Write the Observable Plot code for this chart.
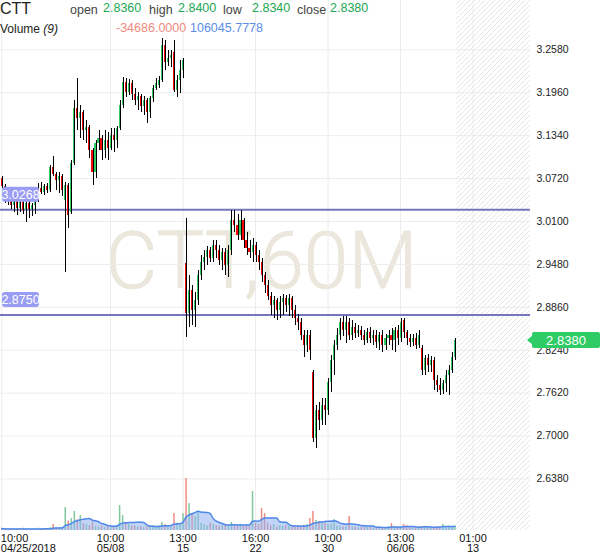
<!DOCTYPE html>
<html><head><meta charset="utf-8">
<script src="https://cdn.jsdelivr.net/npm/d3@7"></script>
<script src="https://cdn.jsdelivr.net/npm/@observablehq/plot@0.6"></script>
<style>
html,body{margin:0;padding:0;background:#fff;}
#wrap{position:relative;width:600px;height:558px;overflow:hidden;font-family:"Liberation Sans",Arial,sans-serif;}
#wrap svg{position:absolute;left:0;top:0;}
.h{position:absolute;white-space:nowrap;line-height:17px;}
</style></head><body><div id="wrap"></div>
<script>
const ticker = "CTT";
const interval = "60M";
const openV = [3.072,3.061,3.040,3.045,3.033,3.042,3.029,3.037,3.026,3.036,
3.027,3.033,3.040,3.058,3.052,3.061,3.055,3.088,3.078,3.069,
3.075,3.040,3.062,3.023,3.094,3.173,3.159,3.167,3.141,3.146,
3.113,3.081,3.123,3.130,3.113,3.127,3.115,3.134,3.127,3.144,
3.178,3.211,3.196,3.209,3.193,3.185,3.191,3.176,3.185,3.167,
3.188,3.202,3.206,3.214,3.264,3.240,3.246,3.254,3.199,3.214,
3.228,2.949,2.877,2.910,2.881,2.896,2.932,2.951,2.958,2.968,
2.957,2.975,2.968,2.954,2.965,2.946,2.968,3.011,3.004,2.990,
3.011,2.982,2.971,2.965,2.975,2.961,2.951,2.932,2.918,2.902,
2.889,2.896,2.881,2.893,2.899,2.889,2.899,2.881,2.870,2.864,
2.845,2.831,2.845,2.792,2.696,2.737,2.722,2.744,2.737,2.777,
2.809,2.831,2.845,2.864,2.852,2.864,2.845,2.857,2.848,2.852,
2.845,2.838,2.850,2.841,2.845,2.835,2.845,2.831,2.841,2.845,
2.838,2.852,2.841,2.867,2.850,2.841,2.835,2.841,2.831,2.826,
2.795,2.812,2.802,2.809,2.780,2.773,2.766,2.776,2.787,2.795,2.813];
const highV = [3.075,3.063,3.049,3.048,3.045,3.043,3.042,3.040,3.039,3.039,
3.036,3.043,3.065,3.066,3.063,3.065,3.091,3.104,3.081,3.081,
3.078,3.066,3.065,3.098,3.185,3.217,3.178,3.170,3.156,3.149,
3.115,3.127,3.141,3.134,3.141,3.139,3.144,3.144,3.147,3.185,
3.218,3.217,3.215,3.214,3.202,3.196,3.193,3.191,3.188,3.191,
3.206,3.217,3.220,3.274,3.272,3.257,3.257,3.272,3.221,3.243,
3.246,3.014,2.932,2.918,2.907,2.939,2.961,2.968,2.974,2.972,
2.982,2.982,2.975,2.971,2.971,2.975,3.026,3.026,3.020,3.026,
3.014,2.994,2.982,2.985,2.980,2.968,2.957,2.936,2.925,2.907,
2.902,2.899,2.902,2.904,2.903,2.904,2.902,2.889,2.876,2.870,
2.852,2.852,2.852,2.795,2.744,2.748,2.754,2.754,2.783,2.816,
2.838,2.855,2.870,2.873,2.873,2.870,2.867,2.863,2.860,2.858,
2.852,2.855,2.857,2.852,2.852,2.850,2.852,2.847,2.852,2.855,
2.857,2.860,2.870,2.870,2.852,2.847,2.847,2.848,2.852,2.831,
2.816,2.818,2.815,2.813,2.787,2.783,2.780,2.795,2.802,2.821,2.841];
const lowV = [3.058,3.036,3.033,3.027,3.023,3.019,3.023,3.020,3.008,3.014,
3.017,3.020,3.037,3.049,3.048,3.050,3.052,3.075,3.055,3.050,
3.046,2.936,3.000,3.020,3.091,3.141,3.130,3.127,3.123,3.101,
3.062,3.072,3.113,3.098,3.101,3.098,3.113,3.110,3.115,3.141,
3.173,3.189,3.192,3.185,3.178,3.170,3.167,3.163,3.152,3.159,
3.182,3.199,3.202,3.211,3.228,3.234,3.233,3.196,3.189,3.195,
3.217,2.842,2.857,2.860,2.857,2.889,2.925,2.939,2.946,2.951,
2.951,2.957,2.946,2.939,2.932,2.929,2.961,2.994,2.982,2.982,
2.971,2.961,2.957,2.951,2.951,2.939,2.922,2.906,2.896,2.874,
2.870,2.867,2.870,2.874,2.879,2.873,2.870,2.860,2.852,2.838,
2.813,2.821,2.809,2.691,2.682,2.708,2.715,2.715,2.730,2.763,
2.787,2.824,2.838,2.844,2.834,2.838,2.838,2.841,2.842,2.838,
2.831,2.834,2.834,2.831,2.826,2.824,2.821,2.824,2.831,2.824,
2.821,2.831,2.835,2.841,2.831,2.828,2.829,2.825,2.826,2.787,
2.787,2.792,2.792,2.766,2.763,2.759,2.760,2.763,2.759,2.790,2.809];
const closeV = [3.061,3.040,3.045,3.033,3.042,3.029,3.037,3.026,3.036,3.027,
3.033,3.040,3.058,3.052,3.061,3.055,3.088,3.078,3.069,3.075,
3.055,3.062,3.019,3.094,3.173,3.159,3.167,3.141,3.146,3.113,
3.081,3.123,3.130,3.113,3.127,3.115,3.134,3.127,3.144,3.178,
3.211,3.196,3.209,3.193,3.185,3.191,3.176,3.185,3.167,3.188,
3.202,3.209,3.214,3.264,3.240,3.246,3.250,3.199,3.214,3.228,
3.243,2.877,2.910,2.881,2.896,2.932,2.951,2.958,2.968,2.957,
2.975,2.968,2.954,2.965,2.946,2.968,3.011,3.004,2.990,3.011,
2.982,2.971,2.965,2.975,2.961,2.951,2.932,2.918,2.902,2.889,
2.896,2.881,2.893,2.899,2.889,2.899,2.881,2.870,2.864,2.845,
2.831,2.845,2.824,2.696,2.737,2.722,2.744,2.737,2.777,2.809,
2.831,2.845,2.864,2.852,2.864,2.845,2.857,2.848,2.852,2.845,
2.838,2.850,2.841,2.845,2.835,2.845,2.831,2.841,2.845,2.838,
2.852,2.841,2.864,2.850,2.841,2.835,2.841,2.831,2.845,2.795,
2.812,2.802,2.809,2.780,2.773,2.766,2.776,2.787,2.795,2.813,2.838];
// volume in thousands of shares
const volumeV = [80,60,50,70,40,60,50,90,60,40,
70,60,90,70,80,60,120,250,100,80,
120,970,400,500,800,450,630,300,250,200,
350,180,150,200,130,160,120,140,200,1050,
630,300,250,180,200,150,170,120,160,200,
180,150,200,340,250,200,180,710,300,250,
700,2180,1130,700,600,750,300,250,200,300,
250,200,180,220,260,200,340,250,200,260,
180,220,200,1640,300,250,920,710,300,200,
250,150,200,180,220,170,150,200,180,160,
220,250,500,800,420,380,350,300,250,260,
460,200,180,150,170,590,160,150,120,140,
130,120,150,110,130,140,120,100,160,290,
120,100,140,250,200,130,110,100,120,150,
180,150,160,130,140,170,250,160,180,150,200];
const levelLines = [3.0268, 2.8750];
const yTicks = [2.638, 2.700, 2.762, 2.824, 2.886, 2.948, 3.010, 3.072, 3.134, 3.196, 3.258];
const xTickIdx = [0, 36, 60, 84, 108, 132, 156];
const xTickTime = ["10:00","10:00","13:00","16:00","10:00","13:00","01:00"];
const xTickDate = ["04/25/2018","05/08","15","22","30","06/06","13"];
const hdrOpen = "2.8360", hdrHigh = "2.8400", hdrLow = "2.8340", hdrClose = "2.8380";
const volLast = "-34686.0000", volMA = "106045.7778";

const candles = closeV.map((c, i) => ({i, o: openV[i], h: highV[i], l: lowV[i], c, v: volumeV[i], up: c >= openV[i]}));
const lastIdx = candles.length - 1;
const lastClose = closeV[lastIdx];
const labelOf = new Map(xTickIdx.map((t, k) => [t, xTickTime[k] + "\n" + xTickDate[k]]));

const W = 600, H = 558, MR = 70, MB = 28;
const xDomain = [-0.43, 175.03];
const GREEN = "#2ecc62", RED = "#f20a0a";

const main = Plot.plot({
  width: W, height: H, marginLeft: 0, marginRight: MR, marginTop: 0, marginBottom: MB,
  style: {fontFamily: '"Liberation Sans", Arial, sans-serif', fontSize: "10.5px", color: "#222", background: "transparent"},
  x: {domain: xDomain, axis: null},
  y: {domain: [2.5635, 3.3293], axis: null},
  marks: [
    Plot.text([ticker + "," + interval], {frameAnchor: "middle", dx: -4, dy: -3, fontSize: 80, fontWeight: 300,
      fontFamily: "Roboto, Lato, sans-serif", fill: "#ebe7dc", stroke: "#e2ddcf", strokeWidth: 0.6}),
    Plot.gridY({ticks: yTicks, stroke: "#ececec", strokeOpacity: 1}),
    Plot.gridX({ticks: xTickIdx, stroke: "#ececec", strokeOpacity: 1}),
    (index, scales, values, dims) => {
      const g = d3.create("svg:g");
      const defs = g.append("defs");
      const p = defs.append("pattern").attr("id", "hatch").attr("patternUnits", "userSpaceOnUse")
        .attr("width", 5).attr("height", 5);
      p.append("path").attr("d", "M-1,1 l2,-2 M0,5 l5,-5 M4,6 l2,-2").attr("stroke", "#e6e6e6").attr("stroke-width", 1);
      const x0 = scales.x(lastIdx + 0.6);
      g.append("rect").attr("x", x0).attr("y", 0).attr("width", dims.width - dims.marginRight - x0)
        .attr("height", dims.height - dims.marginBottom).attr("fill", "url(#hatch)");
      return g.node();
    },
    Plot.axisY({ticks: yTicks, anchor: "right", tickSize: 0, tickPadding: 6, tickFormat: d => d.toFixed(4), label: null, fill: "#222"}),
    Plot.axisX({ticks: xTickIdx.slice(1), anchor: "bottom", tickSize: 0, tickPadding: 4, tickFormat: d => labelOf.get(d), label: null, fontSize: 11, lineHeight: 0.95, fill: "#111"}),
    Plot.axisX({ticks: xTickIdx.slice(0, 1), anchor: "bottom", tickSize: 0, tickPadding: 4, tickFormat: d => labelOf.get(d), label: null, fontSize: 11, lineHeight: 0.95, textAnchor: "start", dx: -1, fill: "#111"}),
    Plot.ruleY(levelLines, {stroke: "#7676ba", strokeWidth: 2}),
    Plot.ruleX(candles, {x: "i", y1: "o", y2: "c", stroke: d => d.up ? GREEN : RED, strokeWidth: 2, shapeRendering: "crispEdges"}),
    Plot.ruleX(candles, {x: "i", y1: "l", y2: "h", stroke: "#000", strokeWidth: 1, dx: 0.6, shapeRendering: "crispEdges"}),
    (index, scales) => {
      const g = d3.create("svg:g");
      levelLines.forEach(v => {
        const yy = scales.y(v);
        g.append("rect").attr("x", 2).attr("y", yy - 22.5).attr("width", 37).attr("height", 15).attr("rx", 3).attr("fill", "#9a9df4");
        g.append("text").attr("x", 20.5).attr("y", yy - 15).attr("text-anchor", "middle").attr("dy", "0.36em")
          .attr("fill", "#fff").style("font-size", "12.5px").style("font-family", '"Liberation Sans", Arial, sans-serif').text(v.toFixed(4));
      });
      const yc = scales.y(lastClose);
      g.append("path").attr("d", `M527,${yc} L533,${yc - 5} L533,${yc + 5} Z`).attr("fill", "#2fcc66");
      g.append("rect").attr("x", 532).attr("y", yc - 8).attr("width", 68).attr("height", 16).attr("rx", 2).attr("fill", "#2fcc66");
      g.append("text").attr("x", 566).attr("y", yc).attr("dy", "0.36em").attr("text-anchor", "middle")
        .attr("fill", "#fff").style("font-size", "13px").text(lastClose.toFixed(4));
      return g.node();
    }
  ]
});

const vol = Plot.plot({
  width: W, height: H, marginLeft: 0, marginRight: MR, marginTop: 0, marginBottom: MB,
  style: {background: "transparent"},
  x: {domain: xDomain, axis: null},
  y: {domain: [0, 22260], axis: null},
  marks: [
    Plot.ruleX(candles, {x: "i", y1: 0, y2: "v", stroke: d => d.up ? "#62bd84" : "#ef6e60", strokeWidth: 1.5, strokeOpacity: 0.8}),
    Plot.areaY(candles, Plot.windowY({k: 9, anchor: "end", strict: false}, {x: "i", y: "v", fill: "#8fb3f2", fillOpacity: 0.55, curve: "monotone-x"})),
    Plot.lineY(candles, Plot.windowY({k: 9, anchor: "end", strict: false}, {x: "i", y: "v", stroke: "#4f88e8", strokeWidth: 1.5, curve: "monotone-x"}))
  ]
});

const wrap = document.getElementById("wrap");
wrap.appendChild(main);
wrap.appendChild(vol);

function hdr(txt, left, top, size, color, extra) {
  const s = document.createElement("div");
  s.className = "h";
  s.style.left = left + "px"; s.style.top = top + "px";
  s.style.fontSize = size + "px"; s.style.color = color;
  if (extra) Object.assign(s.style, extra);
  s.innerHTML = txt;
  wrap.appendChild(s);
}
const G = "#22a853";
hdr(ticker, 0, 0, 16, "#222");
hdr("open", 70, 2, 12.5, "#444"); hdr(hdrOpen, 103, 0, 12.5, G);
hdr("high", 149, 2, 12.5, "#444"); hdr(hdrHigh, 178, 0, 12.5, G);
hdr("low", 223, 2, 12.5, "#444"); hdr(hdrLow, 252, 0, 12.5, G);
hdr("close", 297, 2, 12.5, "#444"); hdr(hdrClose, 330, 0, 12.5, G);
hdr("Volume <i>(9)</i>", 0, 21, 12, "#222");
hdr(volLast, 116, 20, 12.5, "#ef8a80");
hdr(volMA, 190, 20, 12.5, "#5b8de9");
</script></body></html>
